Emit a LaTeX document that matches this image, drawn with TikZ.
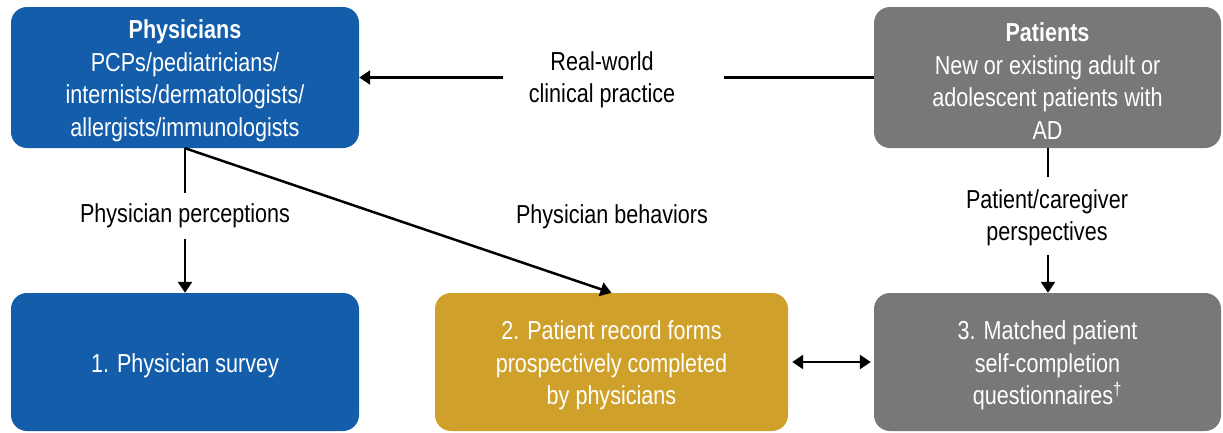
\documentclass[tikz,border=0pt]{standalone}
\usepackage{fontspec}
\setmainfont[FakeStretch=0.83]{Liberation Sans}
\usetikzlibrary{arrows.meta}
\definecolor{physblue}{RGB}{20,93,170}
\definecolor{prfgold}{RGB}{207,161,43}
\definecolor{patgray}{RGB}{120,120,120}
\tikzset{
  box/.style={rounded corners=16pt, inner sep=0pt},
  boxtext/.style={inner sep=0pt, align=center, text=white, yshift=-3.5pt,
    font=\fontsize{26}{32.5}\selectfont},
  lbl/.style={inner sep=0pt, align=center, text=black,
    font=\fontsize{26}{32.5}\selectfont},
  conn/.style={line width=2.5pt, draw=black},
  arr/.style={conn, -{Triangle[length=11pt,width=14pt]}},
  darr/.style={conn, {Triangle[length=11pt,width=14pt]}-{Triangle[length=11pt,width=14pt]}},
}
\begin{document}
\begin{tikzpicture}[x=1pt,y=-1pt]
\useasboundingbox (0,0) rectangle (1223,432);
% boxes
\node[box, fill=physblue, minimum width=348pt, minimum height=141pt] (phys) at (185,77.5) {};
\node[boxtext] (physT) at (phys.center)
  {\textbf{Physicians}\\PCPs/pediatricians/\\internists/dermatologists/\\allergists/immunologists};
\node[box, fill=patgray, minimum width=347pt, minimum height=141pt] (pat) at (1047.5,77.5) {};
\node[boxtext] (patT) at (pat.center)
  {\textbf{Patients}\\New or existing adult or\\adolescent patients with\\AD};
\node[box, fill=physblue, minimum width=348pt, minimum height=138pt] (survey) at (185,362) {};
\node[boxtext] (surveyT) at (survey.center) {1. Physician survey};
\node[box, fill=prfgold, minimum width=353pt, minimum height=138pt] (prf) at (611.5,362) {};
\node[boxtext] (prfT) at (prf.center)
  {2. Patient record forms\\prospectively completed\\by physicians};
\node[box, fill=patgray, minimum width=347pt, minimum height=138pt] (mpq) at (1047.5,362) {};
\node[boxtext] (mpqT) at (mpq.center)
  {3. Matched patient\\self-completion\\questionnaires\textsuperscript{†}};
% labels
\node[lbl] (rw) at (602,80) {Real-world\\clinical practice};
\coordinate (rwR) at (724,77.5);
\coordinate (rwL) at (503,77.5);
\node[lbl, minimum height=45pt] (pp) at (185,216) {Physician perceptions};
\node[lbl] (pb) at (612,217) {Physician behaviors};
\node[lbl, minimum height=78pt] (pc) at (1048,216) {};
\node[lbl] (pcT) at (1047,218) {Patient/caregiver\\perspectives};
% connectors
\draw[conn] (pat.west) -- (rwR);
\draw[arr] (rwL) -- (phys.east);
\draw[conn] (phys.south) -- (pp.north);
\draw[arr] (pp.south) -- (survey.north);
\draw[arr] (phys.south) -- (prf.north);
\draw[conn] (pat.south -| pc.north) -- (pc.north);
\draw[arr] (pc.south) -- (mpq.north -| pc.south);
\draw[darr, shorten <=4pt, shorten >=3pt] (prf.east) -- (mpq.west);
\end{tikzpicture}
\end{document}
